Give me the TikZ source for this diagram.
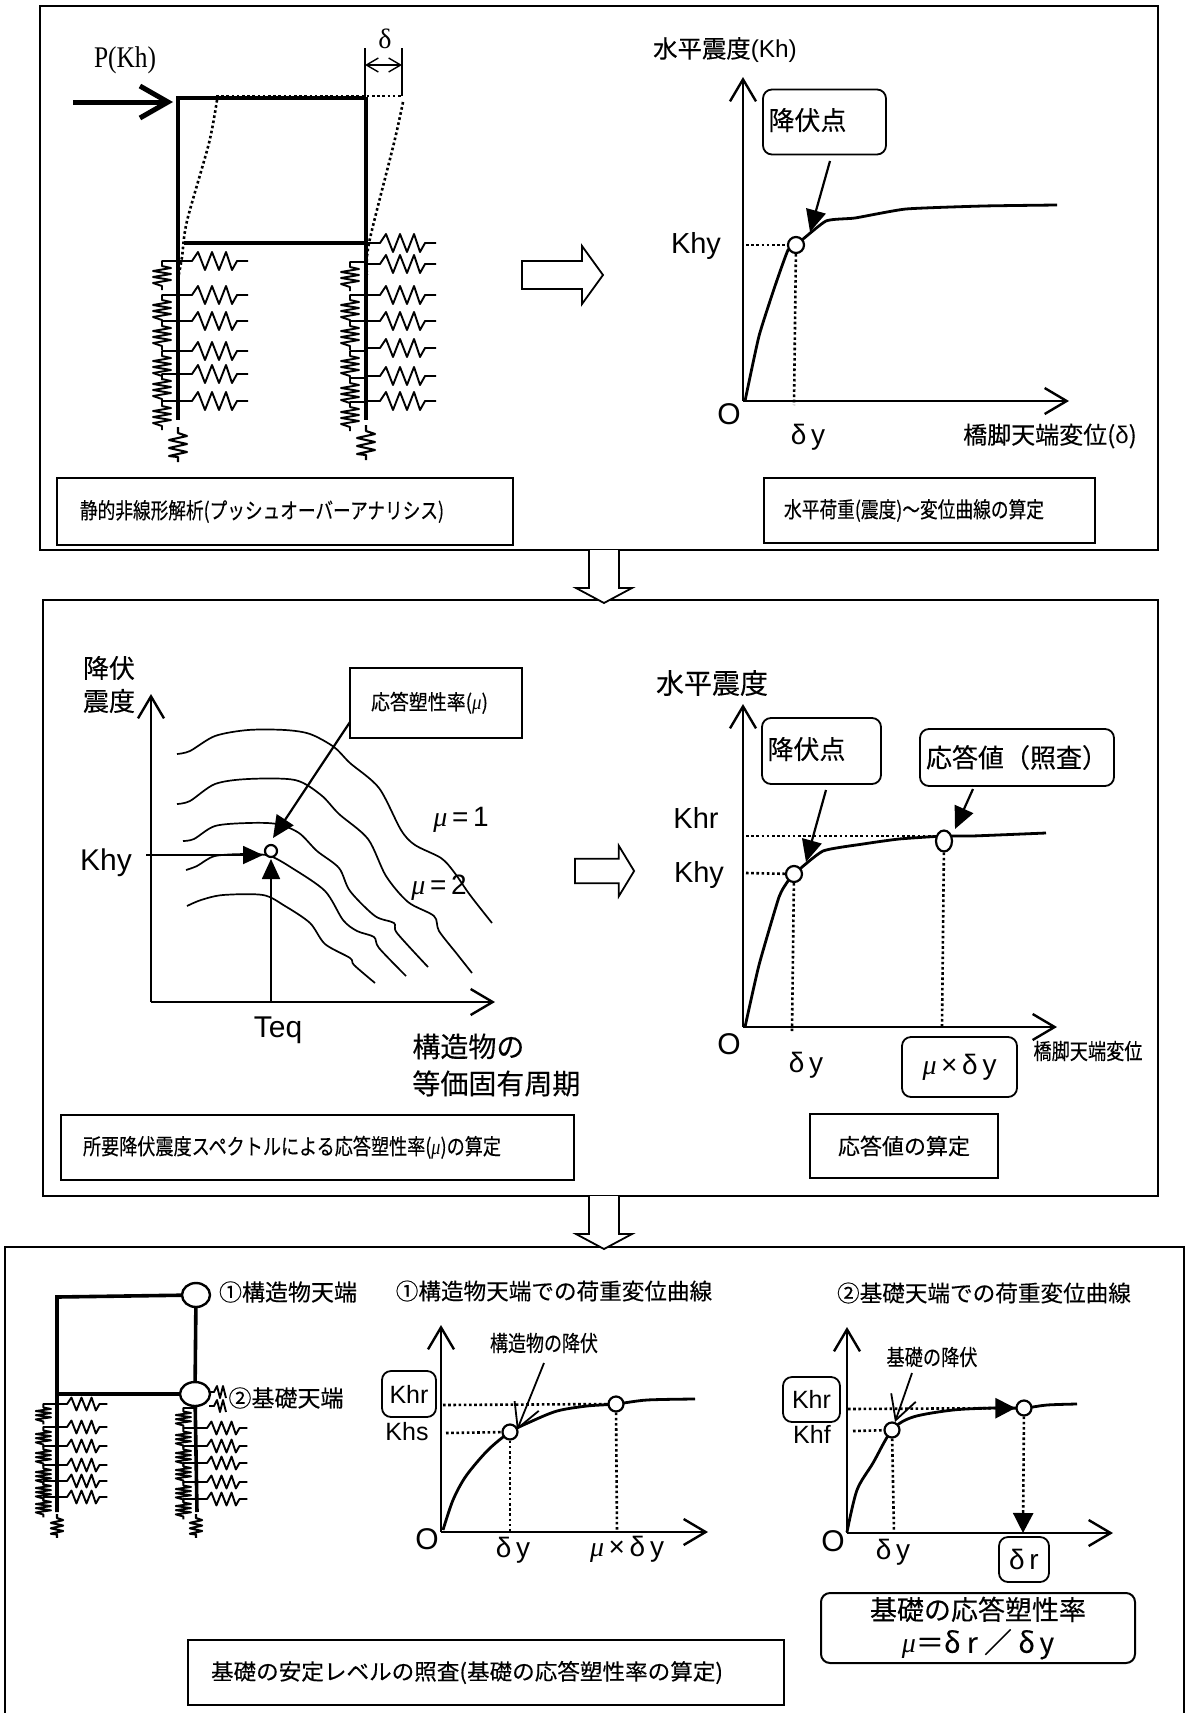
\documentclass[tikz,border=0pt]{standalone}
\usepackage{fontspec}
\setmainfont{Liberation Sans}
\newfontfamily\cjk[FakeBold=0.25]{Noto Sans CJK JP}
\newfontfamily\srf{Liberation Serif}
\usetikzlibrary{arrows.meta,shapes.geometric}
\newcommand{\squeezeto}[2]{\resizebox{#1}{\height}{#2}}
\newcommand{\muit}{{\srf\itshape μ}}

\tikzset{
  lat/.style={font=\fontsize{#1}{#1}\selectfont},
  jp/.style={font=\fontsize{#1}{16.5}\cjk},
  panel/.style={line width=1pt},
  member/.style={line width=1.8pt},
  axis/.style={line width=1.2pt, -{Straight Barb[length=11pt,width=13pt,line width=1.2pt]}},
  curve/.style={line width=1.4pt, line join=round},
  spec/.style={line width=.85pt},
  dots/.style={line width=1.3pt, dash pattern=on 1.3pt off 1.3pt},
  leader/.style={line width=1.1pt, -{Triangle[length=11pt,width=10pt]}},
  barbed/.style={line width=.9pt, -{Straight Barb[length=12pt,width=13pt,line width=.9pt]}},
  ptmark/.style={circle, draw, fill=white, line width=1.1pt, inner sep=0pt, minimum size=#1},
  capbox/.style={draw, line width=.9pt, inner ysep=0pt, align=left},
  rbox/.style={draw, rounded corners=4.5pt, line width=.9pt, inner sep=0pt},
  hsp/.pic={\draw[line width=.95pt, line join=round] (0,0) -- (14,0) -- (20,-9) -- (27,9) -- (34,-9) -- (41,9) -- (48,-9) -- (54,9) -- (59,0) -- (70,0);},
  vsp/.pic={\draw[line width=.95pt, line join=round] (0,0) -- (-16,0) -- (-16,5) -- (-7,7) -- (-25,10) -- (-7,13) -- (-25,16) -- (-7,19) -- (-25,22) -- (-16,25) -- (-16,29);},
  endsp/.pic={\draw[line width=1.05pt, line join=round] (0,0) -- (0,6) -- (9,9) -- (-9,13) -- (9,17) -- (-9,21) -- (9,25) -- (-9,29) -- (0,30) -- (0,35);},
  hsq/.pic={\draw[line width=.95pt, line join=round] (0,0) -- (5,0) -- (8,-6) -- (11,6) -- (14,-6) -- (17,6);},
  blockr/.pic={\draw[line width=.9pt, fill=white] (0,-14) -- (60,-14) -- (60,-29) -- (81,0) -- (60,29) -- (60,14) -- (0,14) -- cycle;},
  blockd/.pic={\draw[line width=.9pt, fill=white] (-15,0) -- (-15,38) -- (-28,38) -- (0,53) -- (28,38) -- (15,38) -- (15,0);},
}

\begin{document}
\begin{tikzpicture}[x=.5pt, y=-.5pt, every node/.style={inner sep=0pt}]
  \useasboundingbox[fill=white] (0,0) rectangle (1188,1713);

  \draw[panel] (40,6) rectangle (1158,550);
  \draw[panel] (43,600) rectangle (1158,1196);
  \draw[panel] (5,1713) -- (5,1247) -- (1184,1247) -- (1184,1713);
  \pic at (604,550) {blockd};
  \pic at (604,1196) {blockd};

  % frame with load
  \draw[member] (178,99) -- (178,420);
  \draw[member] (366,97) -- (366,420);
  \draw[member] (176,98) -- (366,98);
  \draw[member] (184,243) -- (366,243);
  \draw[dots] (216,96) -- (401,96);
  \draw[dots] plot[smooth] coordinates {(217,100) (209,143) (187,221) (182,257) (178,279)};
  \draw[dots] plot[smooth] coordinates {(403,102) (394,143) (369,243) (367,275)};
  \coordinate (loadtail) at (73,102);
  \coordinate (loadhead) at (173,102);
  \draw[line width=2.5pt, -{Straight Barb[length=14pt,width=16pt,line width=2.5pt]}] (loadtail) -- (loadhead);
  \node[font=\fontsize{15}{15}\srf] (pkh) at (125,60) {\squeezeto{31pt}{P(Kh)}};
  \coordinate (dl) at (365,48);
  \coordinate (dr) at (402,48);
  \draw[line width=.8pt] (dl) -- (365,96);
  \draw[line width=.8pt] (dr) -- (402,96);
  \coordinate (dla) at (365,65);
  \coordinate (dra) at (402,65);
  \draw[line width=.7pt, {Straight Barb[length=6pt,width=7pt]}-{Straight Barb[length=6pt,width=7pt]}] (dla) -- (dra);
  \node[font=\fontsize{14}{14}\srf] (delta) at (385,39) {δ};
  \foreach \yy in {261,295,321,351,374,401} \pic at (178,\yy) {hsp};
  \foreach \yy in {243,264,295,321,348,376,401} \pic at (366,\yy) {hsp};
  \foreach \yy in {261,295,321,351,374,401} \pic at (178,\yy) {vsp};
  \foreach \yy in {262,295,321,351,378,402} \pic at (366,\yy) {vsp};
  \pic at (178,427) {endsp};
  \pic at (366,425) {endsp};
  \node[capbox, minimum width=228pt, minimum height=33.5pt, inner xsep=11.5pt, text width=205pt, jp=11] (cap1a) at (285,511.5) {\squeezeto{182pt}{静的非線形解析(プッシュオーバーアナリシス)}};
  \pic at (522,275) {blockr};

  % first curve
  \coordinate (o1) at (743,401);
  \coordinate (y1) at (743,77);
  \coordinate (x1) at (1069,401);
  \draw[axis] (o1) -- (y1);
  \draw[axis] (o1) -- (x1);
  \node[lat=12.2] (title1) at (725,50) {{\cjk 水平震度}(Kh)};
  \draw[curve] plot[smooth, tension=.3] coordinates {(745,401) (759,336) (775,286) (788,250) (796,245) (826,221) (855,218) (906,209) (983,206) (1057,205)};
  \coordinate (kh1) at (746,245);
  \coordinate (d1) at (794,405);
  \node[ptmark=8pt] (pt1) at (796,245) {};
  \draw[dots] (kh1) -- (pt1);
  \draw[dots] (pt1) -- (d1);
  \node[rbox, jp=13, minimum width=61.5pt, minimum height=32.5pt, text width=56pt, align=left] (yield1) at (824.5,122) {\raisebox{3pt}{降伏点}};
  \coordinate (a1s) at (830,161);
  \coordinate (a1e) at (810,232);
  \draw[leader] (a1s) -- (a1e);
  \node[lat=14.5] (khy1) at (696,246) {Khy};
  \node[lat=15] (o1t) at (729,414) {O};
  \node[lat=14] (dy1) at (808,437) {δ\,y};
  \node[font=\fontsize{12}{12}\cjk] (xl1) at (1050,436) {橋脚天端変位({\rmfamily δ})};
  \node[capbox, minimum width=165.5pt, minimum height=32.5pt, inner xsep=10pt, text width=145.5pt, jp=11] (cap1b) at (929.5,510.5) {\squeezeto{130pt}{水平荷重(震度)～変位曲線の算定}};

  % spectrum
  \coordinate (o2) at (151,1002);
  \coordinate (y2) at (151,694);
  \coordinate (x2) at (495,1002);
  \draw[axis] (o2) -- (y2);
  \draw[axis] (o2) -- (x2);
  \draw[spec] plot[smooth, tension=.5] coordinates {(177,754) (190,751) (215,736) (248,730) (285,730) (310,734) (334,747) (350,763) (379,788) (401,830) (415,845) (441,858) (454,872) (470,895) (492,923)};
  \draw[spec] plot[smooth, tension=.5] coordinates {(177,804) (190,801) (215,784) (248,779) (295,780) (321,795) (339,814) (368,839) (386,876) (408,902) (434,916) (439,931) (457,954) (472,973)};
  \draw[spec] plot[smooth, tension=.5] coordinates {(183,841) (194,839) (215,826) (248,823) (277,824) (299,833) (317,851) (339,868) (350,891) (375,916) (394,923) (397,933) (428,967)};
  \draw[spec] plot[smooth, tension=.5] coordinates {(186,870) (197,866) (215,856) (248,854) (270,856) (292,868) (325,891) (343,920) (357,931) (374,937) (379,948) (406,976)};
  \draw[spec] plot[smooth, tension=.5] coordinates {(187,906) (201,900) (223,895) (263,895) (285,906) (310,923) (325,944) (350,958) (354,965) (375,983)};
  \node[ptmark=6pt] (pt2) at (271,851) {};
  \coordinate (khys) at (146,855);
  \coordinate (khye) at (263,855);
  \coordinate (teqs) at (271,1002);
  \coordinate (teqe) at (271,859);
  \draw[line width=.9pt, -{Triangle[length=10pt,width=9pt]}] (khys) -- (khye);
  \draw[line width=.9pt, -{Triangle[length=10pt,width=9pt]}] (teqs) -- (teqe);
  \node[jp=13, align=left] (yield2) at (109,684.5) {降伏\\震度};
  \node[lat=15] (khy2) at (106,863) {Khy};
  \node[lat=15] (teq) at (278,1030) {Teq};
  \node[jp=14, align=left, anchor=west] (xl2) at (412,1065) {構造物の\\[2pt]等価固有周期};
  \node[lat=14] (mu1) at (461,820) {\muit\,=\,1};
  \node[lat=14] (mu2) at (439,888) {\muit\,=\,2};
  \node[capbox, minimum width=86pt, minimum height=35pt, inner xsep=10.5pt, text width=65pt, jp=10.5] (ductbox) at (436,703) {\raisebox{1.5pt}{\squeezeto{58.5pt}{応答塑性率({\srf\itshape μ})}}};
  \coordinate (ductl) at (350,722);
  \coordinate (ducte) at (273,838);
  \draw[leader] (ductl) -- (ducte);
  \node[capbox, minimum width=256.5pt, minimum height=32.5pt, inner xsep=11pt, text width=234.5pt, jp=11] (cap2a) at (317.5,1147.5) {\squeezeto{209pt}{所要降伏震度スペクトルによる応答塑性率({\srf\itshape μ})の算定}};
  \pic[xscale=.73, yscale=.87] at (575,871) {blockr};

  % second curve
  \coordinate (o3) at (743,1027);
  \coordinate (y3) at (743,704);
  \coordinate (x3) at (1057,1027);
  \draw[axis] (o3) -- (y3);
  \draw[axis] (o3) -- (x3);
  \node[jp=14] (title3) at (712,683) {水平震度};
  \draw[curve] plot[smooth, tension=.3] coordinates {(745,1027) (759,965) (779,897) (788,881) (794,874) (823,851) (863,844) (899,839) (944,836) (972,836) (1046,833)};
  \coordinate (khr3) at (746,836);
  \coordinate (khy3) at (746,873);
  \coordinate (d3a) at (792,1031);
  \coordinate (d3b) at (942,1027);
  \coordinate (khr3e) at (972,836);
  \node[ptmark=8pt] (pt3a) at (794,874) {};
  \draw[dots] (khr3) -- (khr3e);
  \node[ellipse, draw, fill=white, line width=1.1pt, minimum width=8pt, minimum height=10.5pt] (pt3b) at (944,841) {};
  \draw[dots] (khy3) -- (pt3a);
  \draw[dots] (pt3a) -- (d3a);
  \draw[dots] (pt3b) -- (d3b);
  \node[rbox, jp=13, minimum width=59.5pt, minimum height=33pt, text width=54pt, align=left] (yield3) at (821.5,751) {\raisebox{3pt}{降伏点}};
  \node[rbox, jp=13, minimum width=97pt, minimum height=28.5pt] (check) at (1017,757.5) {応答値（照査）};
  \coordinate (a3s) at (826,790);
  \coordinate (a3e) at (806,862);
  \coordinate (a4s) at (973,789);
  \coordinate (a4e) at (955,829);
  \draw[leader] (a3s) -- (a3e);
  \draw[leader] (a4s) -- (a4e);
  \node[lat=14.5] (khrt3) at (696,818) {Khr};
  \node[lat=14.5] (khyt3) at (699,875) {Khy};
  \node[lat=15] (o3t) at (729,1044) {O};
  \node[lat=14] (dy3) at (806,1065) {δ\,y};
  \node[rbox, lat=14, minimum width=57.5pt, minimum height=30pt] (mudy) at (959.5,1067) {\muit\,×\,δ\,y};
  \node[jp=11] (xl3) at (1088,1051) {\squeezeto{54.5pt}{橋脚天端変位}};
  \node[capbox, minimum width=94pt, minimum height=32pt, inner xsep=0pt, jp=11, align=center] (cap2b) at (904,1146) {応答値の算定};

  % simplified frame
  \coordinate (fl) at (57,1297);
  \coordinate (fb) at (57,1512);
  \coordinate (fm) at (57,1394);
  \node[ellipse, draw, fill=white, line width=1.2pt, minimum width=14pt, minimum height=12pt] (top) at (196,1295) {};
  \node[ellipse, draw, fill=white, line width=1.2pt, minimum width=15pt, minimum height=12pt] (base) at (195,1394) {};
  \draw[member] (fb) -- (fl) -- (top);
  \draw[member] (fm) -- (base);
  \draw[member] (top) -- (base);
  \coordinate (rb) at (197,1512);
  \draw[member] (base) -- (rb);
  \foreach \yy in {1404,1427,1446,1465,1481,1497} \pic[scale=.72] at (57,\yy) {hsp};
  \foreach \yy in {1428,1446,1463,1482,1499} \pic[scale=.72] at (197,\yy) {hsp};
  \foreach \yy in {1404,1427,1446,1465,1481,1497} \pic[xscale=.85, yscale=.7] at (57,\yy) {vsp};
  \foreach \yy in {1408,1428,1446,1463,1482,1499} \pic[xscale=.85, yscale=.7] at (197,\yy) {vsp};
  \pic[scale=.68] at (57,1514) {endsp};
  \pic[scale=.68] at (196,1514) {endsp};
  \pic at (209,1392) {hsq};
  \pic at (209,1406) {hsq};
  \node[jp=11.5] (toplbl) at (288,1292) {①構造物天端};
  \node[jp=11.5] (baselbl) at (286,1398) {②基礎天端};

  % left small chart
  \coordinate (o4) at (441,1532);
  \coordinate (y4) at (441,1325);
  \coordinate (x4) at (708,1532);
  \draw[axis] (o4) -- (y4);
  \draw[axis] (o4) -- (x4);
  \node[jp=11.3] (title4) at (554,1291) {①構造物天端での荷重変位曲線};
  \node[jp=11] (yl4) at (544,1343) {\squeezeto{54pt}{構造物の降伏}};
  \draw[curve] plot[smooth, tension=.5] coordinates {(443,1530) (453,1500) (466,1476) (488,1450) (510,1432) (530,1422) (557,1411) (587,1406) (616,1404) (647,1400) (695,1399)};
  \coordinate (khr4) at (443,1405);
  \coordinate (khs4) at (446,1433);
  \coordinate (d4a) at (510,1532);
  \coordinate (d4b) at (617,1532);
  \node[ptmark=7.5pt] (pt4a) at (510,1432) {};
  \node[ptmark=7.5pt] (pt4b) at (616,1404) {};
  \draw[dots] (khr4) -- (pt4b);
  \draw[dots] (khs4) -- (pt4a);
  \draw[dots] (pt4a) -- (d4a);
  \draw[dots] (pt4b) -- (d4b);
  \coordinate (a5s) at (544,1363);
  \coordinate (a5e) at (517,1430);
  \draw[barbed] (a5s) -- (a5e);
  \node[rbox, lat=12.5, minimum width=27pt, minimum height=23pt] (khrbox4) at (409,1394) {Khr};
  \node[lat=12.5] (khst4) at (407,1432) {Khs};
  \node[lat=15] (o4t) at (427,1539) {O};
  \node[lat=14] (dy4) at (513,1550) {δ\,y};
  \node[lat=14] (mudy4) at (627,1549) {\muit\,×\,δ\,y};

  % right small chart
  \coordinate (o5) at (847,1533);
  \coordinate (y5) at (847,1327);
  \coordinate (x5) at (1113,1533);
  \draw[axis] (o5) -- (y5);
  \draw[axis] (o5) -- (x5);
  \node[jp=11.3] (title5) at (984,1293) {②基礎天端での荷重変位曲線};
  \node[jp=11] (yl5) at (932,1357) {\squeezeto{45.5pt}{基礎の降伏}};
  \draw[curve] plot[smooth, tension=.5] coordinates {(847,1532) (857,1490) (873,1463) (892,1430) (913,1417) (953,1410) (993,1408) (1024,1408) (1047,1405) (1077,1404)};
  \coordinate (khr5) at (848,1409);
  \coordinate (khf5) at (853,1431);
  \coordinate (d5a) at (894,1533);
  \coordinate (d5b) at (1023,1533);
  \node[ptmark=7.5pt] (pt5a) at (892,1430) {};
  \node[ptmark=7.5pt] (pt5b) at (1024,1408) {};
  \draw[dots, -{Triangle[length=10pt,width=10pt]}] (khr5) -- (pt5b);
  \draw[dots] (khf5) -- (pt5a);
  \draw[dots] (pt5a) -- (d5a);
  \draw[dots, -{Triangle[length=10pt,width=10pt]}] (pt5b) -- (d5b);
  \coordinate (a6s) at (912,1373);
  \coordinate (a6e) at (895,1422);
  \draw[barbed] (a6s) -- (a6e);
  \node[rbox, lat=12.5, minimum width=28.5pt, minimum height=22.5pt] (khrbox5) at (811.5,1399.5) {Khr};
  \node[lat=12.5] (khft5) at (812,1434) {Khf};
  \node[lat=15] (o5t) at (833,1541) {O};
  \node[lat=14] (dy5) at (893,1552) {δ\,y};
  \node[rbox, lat=14, minimum width=25pt, minimum height=22.5pt] (drbox) at (1024,1559.5) {δ\,r};
  \node[rbox, jp=13.5, minimum width=157pt, minimum height=35pt, align=center, line width=1pt] (ratio) at (978,1628) {基礎の応答塑性率\\{\fontsize{14}{14}\selectfont \muit{\cjk ＝}δ r {\cjk ／} δ\,y}};
  \node[capbox, minimum width=298pt, minimum height=32.5pt, inner xsep=11.5pt, text width=275pt, jp=11] (cap3) at (486,1672.5) {\squeezeto{256pt}{基礎の安定レベルの照査(基礎の応答塑性率の算定)}};
\end{tikzpicture}
\end{document}
